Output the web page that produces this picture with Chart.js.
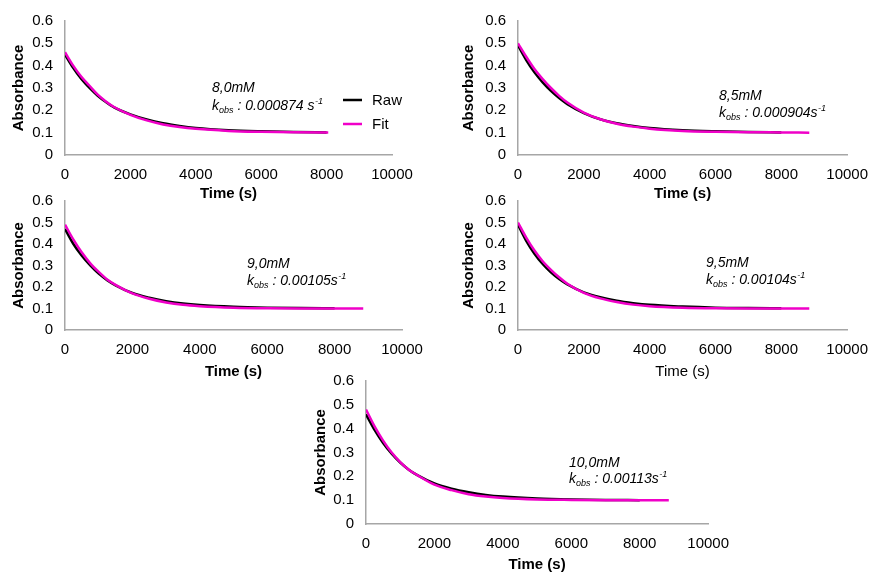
<!DOCTYPE html>
<html>
<head>
<meta charset="utf-8">
<script src="https://cdn.jsdelivr.net/npm/chart.js@4"></script>
<style>
  html, body { margin: 0; padding: 0; background: #fff; }
  body { width: 879px; height: 575px; position: relative; overflow: hidden; }
  .panel { position: absolute; }
  .panel canvas { display: block; }
</style>
</head>
<body>
<div class="panel" id="p1" style="left:0px;top:0px;width:440px;height:205px"><canvas></canvas></div>
<div class="panel" id="p2" style="left:450px;top:0px;width:429px;height:205px"><canvas></canvas></div>
<div class="panel" id="p3" style="left:0px;top:180px;width:440px;height:205px"><canvas></canvas></div>
<div class="panel" id="p4" style="left:450px;top:180px;width:429px;height:205px"><canvas></canvas></div>
<div class="panel" id="p5" style="left:300px;top:360px;width:440px;height:215px"><canvas></canvas></div>
<script>
(function () {
    'use strict';

    // ── Data ───────────────────────────────────────────────────────────────────
    const TIME_RAW   = [0, 250, 500, 750, 1000, 1250, 1500, 2000, 2500, 3000, 3500, 4000, 5000, 6000, 7000, 8000];
    const TIME_FIT_1 = [0, 250, 500, 750, 1000, 1250, 1500, 2000, 2500, 3000, 3500, 4000, 5000, 6000, 7000, 8000, 8050];
    const TIME_FIT   = [0, 250, 500, 750, 1000, 1250, 1500, 2000, 2500, 3000, 3500, 4000, 5000, 6000, 7000, 8000, 8850];

    const RAW_80 = [0.45, 0.39, 0.34, 0.30, 0.265, 0.237, 0.213, 0.182, 0.159, 0.142, 0.130, 0.121, 0.111, 0.106, 0.103, 0.101];
    const FIT_80 = [0.46, 0.40, 0.35, 0.31, 0.270, 0.240, 0.215, 0.180, 0.155, 0.137, 0.125, 0.117, 0.108, 0.104, 0.102, 0.101, 0.101];

    const RAW_85 = [0.49, 0.425, 0.37, 0.325, 0.287, 0.255, 0.228, 0.188, 0.160, 0.142, 0.130, 0.121, 0.111, 0.106, 0.103, 0.101];
    const FIT_85 = [0.50, 0.44, 0.385, 0.34, 0.300, 0.265, 0.235, 0.190, 0.160, 0.140, 0.127, 0.118, 0.108, 0.104, 0.102, 0.101, 0.100];

    const RAW_90 = [0.47, 0.40, 0.345, 0.30, 0.262, 0.232, 0.208, 0.172, 0.150, 0.134, 0.123, 0.116, 0.108, 0.104, 0.102, 0.101];
    const FIT_90 = [0.49, 0.42, 0.36, 0.31, 0.270, 0.235, 0.210, 0.170, 0.145, 0.128, 0.117, 0.111, 0.104, 0.101, 0.100, 0.100, 0.100];

    const RAW_95 = [0.49, 0.415, 0.355, 0.307, 0.268, 0.237, 0.212, 0.175, 0.152, 0.136, 0.125, 0.117, 0.109, 0.104, 0.102, 0.101];
    const FIT_95 = [0.50, 0.43, 0.37, 0.32, 0.280, 0.245, 0.215, 0.173, 0.147, 0.130, 0.118, 0.111, 0.104, 0.101, 0.100, 0.100, 0.100];

    const RAW_100 = [0.46, 0.395, 0.34, 0.295, 0.258, 0.228, 0.205, 0.170, 0.148, 0.133, 0.122, 0.115, 0.107, 0.103, 0.101, 0.100];
    const FIT_100 = [0.48, 0.41, 0.35, 0.30, 0.260, 0.228, 0.205, 0.165, 0.142, 0.125, 0.115, 0.109, 0.103, 0.101, 0.100, 0.100, 0.100];

    const CONCS  = ['8,0mM', '8,5mM', '9,0mM', '9,5mM', '10,0mM'];
    const KOBS   = ['0.000874 s', '0.000904s', '0.00105s', '0.00104s', '0.00113s'];
    const X_TICKS = [0, 2000, 4000, 6000, 8000, 10000];
    const Y_TICKS = [0, 0.1, 0.2, 0.3, 0.4, 0.5, 0.6];
    const SERIES  = ['Raw', 'Fit'];

    // ── Styling ────────────────────────────────────────────────────────────────
    const FONT      = '"Liberation Sans", Arial, sans-serif';
    const RAW_COLOR = '#000000';
    const FIT_COLOR = '#f000c8';
    const AXIS_GREY = '#a6a6a6';

    const toPoints = (xs, ys) => ys.map((y, i) => ({ x: xs[i], y: y }));

    // Annotation + (optional) legend drawn on top of the plot
    const notesPlugin = {
        id: 'notes',
        afterDraw(chart, args, opts) {
            const ctx = chart.ctx;
            ctx.save();
            ctx.fillStyle = '#000';
            ctx.textBaseline = 'alphabetic';
            ctx.textAlign = 'left';

            // line 1: concentration
            ctx.font = 'italic 14px ' + FONT;
            ctx.fillText(opts.conc, opts.x, opts.y1);

            // line 2: k_obs : value s^-1
            let x = opts.x;
            ctx.font = 'italic 14px ' + FONT;
            ctx.fillText('k', x, opts.y2);
            x += ctx.measureText('k').width;
            ctx.font = 'italic 9px ' + FONT;
            ctx.fillText('obs', x, opts.y2 + 3);
            x += ctx.measureText('obs').width;
            ctx.font = 'italic 14px ' + FONT;
            const main = ' : ' + opts.k;
            ctx.fillText(main, x, opts.y2);
            x += ctx.measureText(main).width;
            ctx.font = 'italic 9px ' + FONT;
            ctx.fillText('-1', x + 0.5, opts.y2 - 6);

            if (opts.legend) {
                const lg = opts.legend;
                chart.data.datasets.forEach((ds, i) => {
                    const ly = lg.y + i * lg.gap;
                    ctx.strokeStyle = ds.borderColor;
                    ctx.lineWidth = 2.5;
                    ctx.beginPath();
                    ctx.moveTo(lg.x, ly);
                    ctx.lineTo(lg.x + 19, ly);
                    ctx.stroke();
                    ctx.fillStyle = '#000';
                    ctx.font = '15px ' + FONT;
                    ctx.textBaseline = 'middle';
                    ctx.fillText(ds.label, lg.x + 29, ly + 1);
                });
            }
            ctx.restore();
        }
    };

    function makeChart(id, raw, timeFit, fit, box, note, xBold) {
        const canvas = document.querySelector('#' + id + ' canvas');
        return new Chart(canvas.getContext('2d'), {
            type: 'line',
            data: {
                datasets: [
                    {
                        label: SERIES[0],
                        data: toPoints(TIME_RAW, raw),
                        borderColor: RAW_COLOR,
                        borderWidth: 2.5,
                        pointRadius: 0,
                        cubicInterpolationMode: 'monotone',
                        fill: false,
                        order: 2
                    },
                    {
                        label: SERIES[1],
                        data: toPoints(timeFit, fit),
                        borderColor: FIT_COLOR,
                        borderWidth: 2.5,
                        pointRadius: 0,
                        cubicInterpolationMode: 'monotone',
                        fill: false,
                        order: 1
                    }
                ]
            },
            options: {
                responsive: true,
                maintainAspectRatio: false,
                animation: false,
                layout: { padding: box.pad },
                plugins: {
                    legend: { display: false },
                    tooltip: { enabled: false },
                    notes: note
                },
                scales: {
                    x: {
                        type: 'linear',
                        min: X_TICKS[0],
                        max: X_TICKS[X_TICKS.length - 1],
                        afterBuildTicks: (s) => { s.ticks = X_TICKS.map(v => ({ value: v })); },
                        afterFit: (s) => { s.height = box.xh; },
                        grid: { display: false, drawTicks: false },
                        border: { color: AXIS_GREY, width: 1.5 },
                        ticks: {
                            autoSkip: false,
                            maxRotation: 0,
                            padding: 11,
                            color: '#000',
                            font: { family: FONT, size: 15 },
                            callback: (v) => String(v)
                        },
                        title: {
                            display: true,
                            text: 'Time (s)',
                            color: '#000',
                            padding: 0,
                            font: { family: FONT, size: 15, weight: xBold ? 'bold' : 'normal' }
                        }
                    },
                    y: {
                        min: Y_TICKS[0],
                        max: Y_TICKS[Y_TICKS.length - 1],
                        afterBuildTicks: (s) => { s.ticks = Y_TICKS.map(v => ({ value: v })); },
                        afterFit: (s) => { s.width = box.yw; },
                        grid: { display: false, drawTicks: false },
                        border: { color: AXIS_GREY, width: 1.5 },
                        ticks: {
                            padding: 12,
                            color: '#000',
                            font: { family: FONT, size: 15 },
                            callback: (v) => String(Math.round(v * 10) / 10)
                        },
                        title: {
                            display: true,
                            text: 'Absorbance',
                            color: '#000',
                            padding: 0,
                            font: { family: FONT, size: 15, weight: 'bold' }
                        }
                    }
                }
            },
            plugins: [notesPlugin]
        });
    }

    // ── Panels ────────────────────────────────────────────────────────────────
    makeChart('p1', RAW_80, TIME_FIT_1, FIT_80,
        { pad: { left: 10, top: 18, right: 48, bottom: 2 }, yw: 55, xh: 48 },
        { conc: CONCS[0], k: KOBS[0], x: 212, y1: 92, y2: 110, legend: { x: 343, y: 100, gap: 24 } },
        true);

    makeChart('p2', RAW_85, TIME_FIT, FIT_85,
        { pad: { left: 10, top: 18, right: 24, bottom: 2 }, yw: 58, xh: 48 },
        { conc: CONCS[1], k: KOBS[1], x: 269, y1: 100, y2: 117 },
        true);

    makeChart('p3', RAW_90, TIME_FIT, FIT_90,
        { pad: { left: 10, top: 13, right: 38, bottom: 4 }, yw: 55, xh: 51 },
        { conc: CONCS[2], k: KOBS[2], x: 247, y1: 88, y2: 105 },
        true);

    makeChart('p4', RAW_95, TIME_FIT, FIT_95,
        { pad: { left: 10, top: 13, right: 24, bottom: 4 }, yw: 58, xh: 51 },
        { conc: CONCS[3], k: KOBS[3], x: 256, y1: 87, y2: 104 },
        false);

    makeChart('p5', RAW_100, TIME_FIT, FIT_100,
        { pad: { left: 12, top: 17, right: 20, bottom: 1 }, yw: 54, xh: 50 },
        { conc: CONCS[4], k: KOBS[4], x: 269, y1: 107, y2: 123 },
        true);
}());
</script>
</body>
</html>
